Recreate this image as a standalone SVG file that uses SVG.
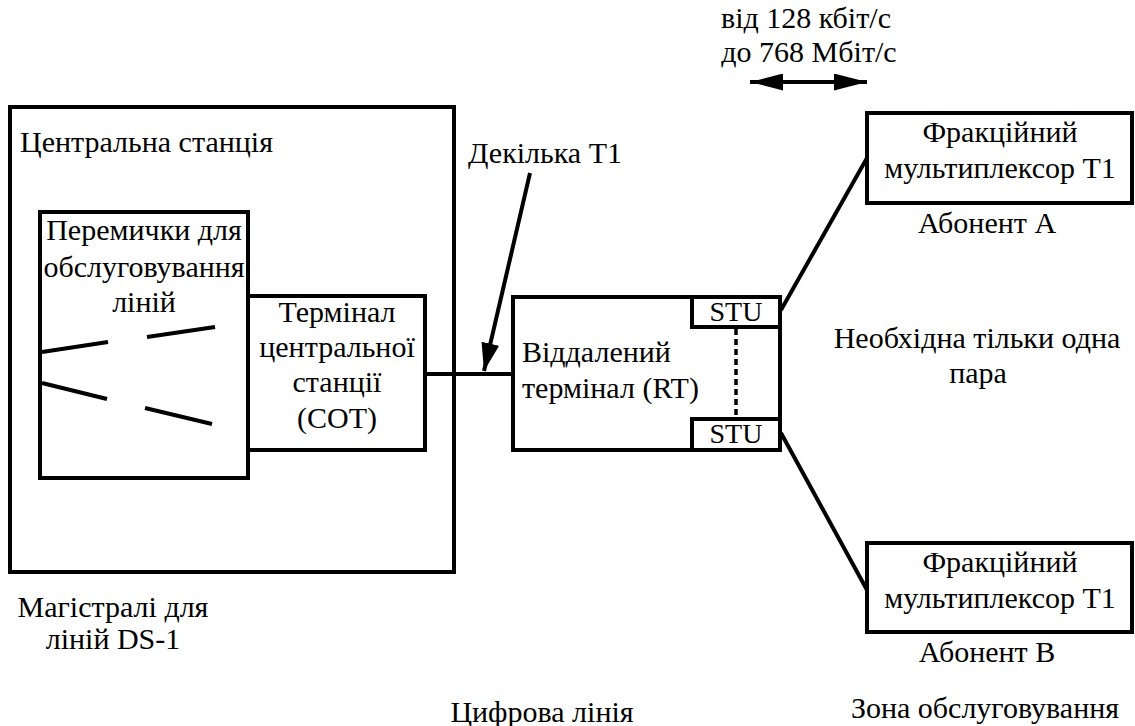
<svg xmlns="http://www.w3.org/2000/svg" width="1135" height="726" viewBox="0 0 1135 726">
<defs>
  <marker id="ah" viewBox="0 0 33 17" refX="33" refY="8.5" markerWidth="8.25" markerHeight="4.25" markerUnits="strokeWidth" orient="auto-start-reverse">
    <path d="M0,0 L33,8.5 L0,17 z" fill="#000"/>
  </marker>
  <marker id="ah2" viewBox="0 0 28 18" refX="28" refY="9" markerWidth="7" markerHeight="4.5" markerUnits="strokeWidth" orient="auto">
    <path d="M0,0 L28,9 L0,18 z" fill="#000"/>
  </marker>
</defs>
<rect width="1135" height="726" fill="#fff"/>

<g id="central-station">
  <rect x="10" y="107" width="444" height="465" fill="none" stroke="#000" stroke-width="4"/>
  <text x="20" y="152" font-family="Liberation Serif" font-size="30">Центральна станція</text>
</g>

<g id="jumpers">
  <rect x="40" y="212" width="208" height="266" fill="#fff" stroke="#000" stroke-width="4"/>
  <text x="144" y="240" text-anchor="middle" font-family="Liberation Serif" font-size="30">Перемички для</text>
  <text x="144" y="277" text-anchor="middle" font-family="Liberation Serif" font-size="30">обслуговування</text>
  <text x="144" y="312" text-anchor="middle" font-family="Liberation Serif" font-size="30">ліній</text>
  <line x1="42" y1="352" x2="108" y2="342" stroke="#000" stroke-width="4"/>
  <line x1="147" y1="337" x2="215" y2="327" stroke="#000" stroke-width="4"/>
  <line x1="42" y1="383" x2="107" y2="399" stroke="#000" stroke-width="4"/>
  <line x1="145" y1="408" x2="212" y2="424" stroke="#000" stroke-width="4"/>
</g>

<g id="cot">
  <rect x="248" y="296" width="177" height="154" fill="#fff" stroke="#000" stroke-width="4"/>
  <text x="337" y="322" text-anchor="middle" font-family="Liberation Serif" font-size="30">Термінал</text>
  <text x="337" y="357" text-anchor="middle" font-family="Liberation Serif" font-size="30">центральної</text>
  <text x="337" y="392" text-anchor="middle" font-family="Liberation Serif" font-size="30">станції</text>
  <text x="337" y="428" text-anchor="middle" font-family="Liberation Serif" font-size="30">(СОТ)</text>
</g>

<g id="rt">
  <rect x="513" y="297" width="267" height="153" fill="#fff" stroke="#000" stroke-width="4"/>
  <text x="522" y="362" font-family="Liberation Serif" font-size="30">Віддалений</text>
  <text x="522" y="398" font-family="Liberation Serif" font-size="30">термінал (RT)</text>
</g>

<g id="stu-top">
  <rect x="692" y="297" width="88" height="30" fill="#fff" stroke="#000" stroke-width="4"/>
  <text x="736" y="321" text-anchor="middle" font-family="Liberation Serif" font-size="28">STU</text>
</g>

<g id="stu-bottom">
  <rect x="692" y="419" width="88" height="31" fill="#fff" stroke="#000" stroke-width="4"/>
  <text x="736" y="443" text-anchor="middle" font-family="Liberation Serif" font-size="28">STU</text>
</g>

<g id="mux-a">
  <rect x="867" y="113" width="265" height="90" fill="#fff" stroke="#000" stroke-width="4"/>
  <text x="1000" y="142" text-anchor="middle" font-family="Liberation Serif" font-size="30">Фракційний</text>
  <text x="1000" y="178" text-anchor="middle" font-family="Liberation Serif" font-size="30">мультиплексор T1</text>
  <text x="987" y="233" text-anchor="middle" font-family="Liberation Serif" font-size="30">Абонент А</text>
</g>

<g id="mux-b">
  <rect x="867" y="543" width="265" height="89" fill="#fff" stroke="#000" stroke-width="4"/>
  <text x="1000" y="572" text-anchor="middle" font-family="Liberation Serif" font-size="30">Фракційний</text>
  <text x="1000" y="608" text-anchor="middle" font-family="Liberation Serif" font-size="30">мультиплексор T1</text>
  <text x="987" y="662" text-anchor="middle" font-family="Liberation Serif" font-size="30">Абонент В</text>
</g>

<g id="connectors" stroke="#000" stroke-width="4" fill="none">
  <line x1="425" y1="374" x2="513" y2="374"/>
  <line x1="530" y1="173" x2="484" y2="371" marker-end="url(#ah2)"/>
  <line x1="736" y1="329" x2="736" y2="418" stroke-width="3.5" stroke-dasharray="6,4"/>
  <line x1="781" y1="310" x2="867" y2="158"/>
  <line x1="781" y1="433" x2="867" y2="590"/>
  <line x1="750" y1="82" x2="867" y2="82" marker-start="url(#ah)" marker-end="url(#ah)"/>
</g>

<g id="labels">
  <text x="468" y="163" font-family="Liberation Serif" font-size="30">Декілька T1</text>
  <text x="806" y="28" text-anchor="middle" font-family="Liberation Serif" font-size="30">від 128 кбіт/с</text>
  <text x="809" y="62" text-anchor="middle" font-family="Liberation Serif" font-size="30">до 768 Мбіт/с</text>
  <text x="977" y="348" text-anchor="middle" font-family="Liberation Serif" font-size="30">Необхідна тільки одна</text>
  <text x="978" y="383" text-anchor="middle" font-family="Liberation Serif" font-size="30">пара</text>
  <text x="113" y="617" text-anchor="middle" font-family="Liberation Serif" font-size="30">Магістралі для</text>
  <text x="113" y="649" text-anchor="middle" font-family="Liberation Serif" font-size="30">ліній DS-1</text>
  <text x="542" y="722" text-anchor="middle" font-family="Liberation Serif" font-size="30">Цифрова лінія</text>
  <text x="985" y="718" text-anchor="middle" font-family="Liberation Serif" font-size="30">Зона обслуговування</text>
</g>
</svg>
